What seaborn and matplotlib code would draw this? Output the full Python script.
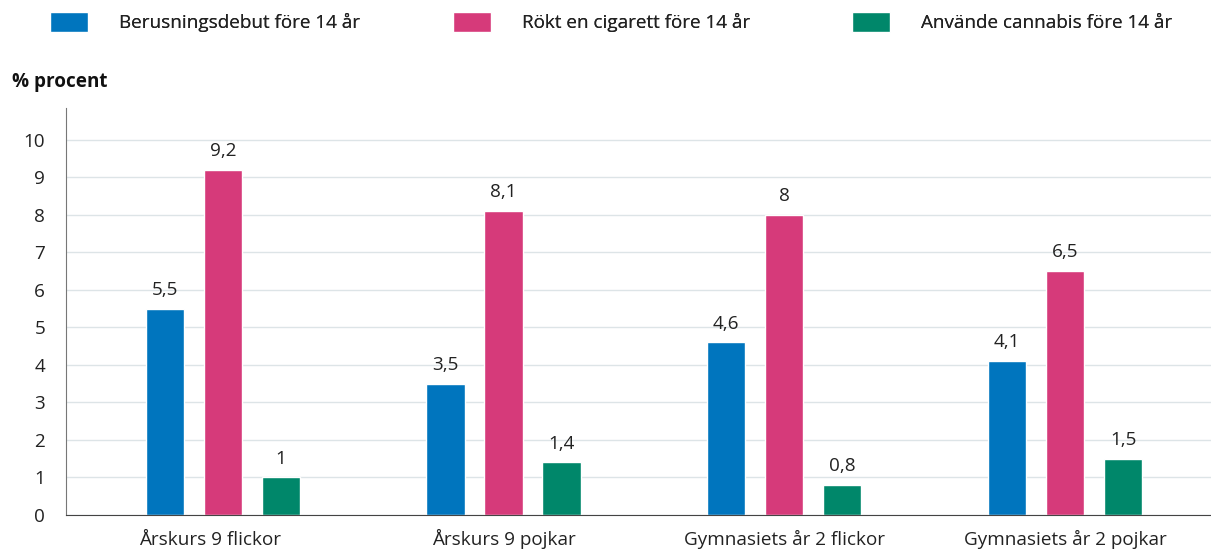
import pandas as pd
import matplotlib.pyplot as plt
import matplotlib.transforms as mtransforms
import seaborn as sns

groups = ['Årskurs 9 flickor', 'Årskurs 9 pojkar', 'Gymnasiets år 2 flickor', 'Gymnasiets år 2 pojkar']
series = ['Berusningsdebut före 14 år', 'Rökt en cigarett före 14 år', 'Använde cannabis före 14 år']
berusning = [5.5, 3.5, 4.6, 4.1]
rokt = [9.2, 8.1, 8.0, 6.5]
cannabis = [1.0, 1.4, 0.8, 1.5]
colors = ['#0075BE', '#D63A7A', '#00876A']

rows = []
for s, vals in zip(series, [berusning, rokt, cannabis]):
    for g, v in zip(groups, vals):
        rows.append({'grupp': g, 'serie': s, 'varde': v})
df = pd.DataFrame(rows)

sns.set_style('white')
plt.rcParams['font.family'] = ['Open Sans', 'DejaVu Sans']
fs = 13.6

fig = plt.figure(figsize=(12.11, 5.5), dpi=100)
ax = fig.add_axes([66 / 1211, 35 / 550, 1145 / 1211, 407 / 550])

sns.barplot(data=df, x='grupp', y='varde', hue='serie', palette=colors,
            width=0.62, gap=0.34, saturation=1, ax=ax, legend=True)

# value labels
for cont in ax.containers:
    ax.bar_label(cont, labels=[('%g' % b.get_height()).replace('.', ',') for b in cont],
                 padding=7, fontsize=fs, color='#222222')

ax.set_xlim(-0.559, 3.52)
ax.set_ylim(0, 10.85)
ax.set_yticks(range(0, 11))
ax.yaxis.grid(True, color='#dde4e7', linewidth=1)
ax.set_axisbelow(True)
ax.set_xlabel('')
ax.set_ylabel('')
ax.tick_params(axis='both', length=0, labelsize=fs, colors='#222222')
ax.tick_params(axis='x', pad=21.5)
ax.tick_params(axis='y', pad=15)
# baseline-aligned group labels, the first one sits a bit left of its bars
for i, lab in enumerate(ax.get_xticklabels()):
    lab.set_verticalalignment('baseline')
    if i == 0:
        lab.set_transform(lab.get_transform() + mtransforms.ScaledTranslation(-0.13, 0, fig.dpi_scale_trans))
for side in ['top', 'right']:
    ax.spines[side].set_visible(False)
ax.spines['left'].set_color('#777777')
ax.spines['bottom'].set_color('#444444')

handles, labels = ax.get_legend_handles_labels()
ax.get_legend().remove()
for h, lab, x0 in zip(handles, labels, [50, 453, 852]):
    leg = fig.legend([h], [lab], loc='upper left', bbox_to_anchor=(x0 / 1211, 1 - 12 / 550),
                     frameon=False, fontsize=fs, handlelength=2.0, handleheight=1.25,
                     handletextpad=1.65, borderpad=0, borderaxespad=0, labelcolor='#222222')
    fig.add_artist(leg)

fig.text(12 / 1211, 1 - 82 / 550, '% procent', fontsize=fs, fontweight='bold',
         va='center', ha='left', color='#111111')

fig.savefig('out.png', dpi=100)
